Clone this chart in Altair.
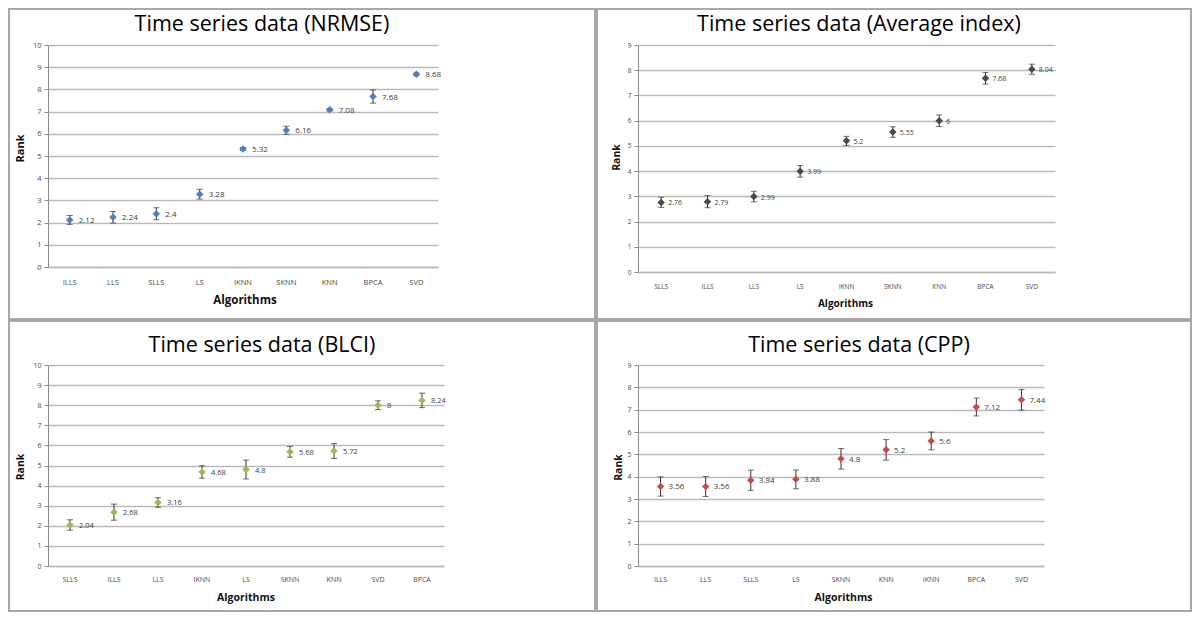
import altair as alt
import pandas as pd

# ---- data ----
nrmse_algs = ["ILLS", "LLS", "SLLS", "LS", "IKNN", "SKNN", "KNN", "BPCA", "SVD"]
nrmse_rank = [2.12, 2.24, 2.4, 3.28, 5.32, 6.16, 7.08, 7.68, 8.68]
nrmse_err = [0.20, 0.26, 0.27, 0.22, 0.06, 0.18, 0.06, 0.30, 0.06]

avg_algs = ["SLLS", "ILLS", "LLS", "LS", "IKNN", "SKNN", "KNN", "BPCA", "SVD"]
avg_rank = [2.76, 2.79, 2.99, 3.99, 5.2, 5.55, 6, 7.68, 8.04]
avg_err = [0.20, 0.24, 0.21, 0.23, 0.18, 0.21, 0.23, 0.23, 0.20]

blci_algs = ["SLLS", "ILLS", "LLS", "IKNN", "LS", "SKNN", "KNN", "SVD", "BPCA"]
blci_rank = [2.04, 2.68, 3.16, 4.68, 4.8, 5.68, 5.72, 8, 8.24]
blci_err = [0.26, 0.40, 0.24, 0.31, 0.47, 0.27, 0.37, 0.22, 0.36]

cpp_algs = ["ILLS", "LLS", "SLLS", "LS", "SKNN", "KNN", "IKNN", "BPCA", "SVD"]
cpp_rank = [3.56, 3.56, 3.84, 3.88, 4.8, 5.2, 5.6, 7.12, 7.44]
cpp_err = [0.43, 0.45, 0.45, 0.42, 0.46, 0.46, 0.40, 0.40, 0.46]

FONT = "Open Sans"
GRID = "#bababa"


def panel(title, algs, ranks, errs, ymax, color, g):
    df = pd.DataFrame({
        "alg": algs,
        "rank": ranks,
        "err": errs,
        "label": [f"{v:g}" for v in ranks],
    })
    w, h = g["w"], g["h"]
    xaxis = alt.Axis(
        title="Algorithms", labelAngle=0, ticks=False, tickSize=0,
        domainColor=GRID, domainWidth=1.5,
        labelFont=FONT, labelFontSize=g["axfs"], labelColor="#4a4a4a",
        labelBaseline="middle", labelPadding=g["xlab"],
        titleFont=FONT, titleFontSize=g["algfs"], titleFontWeight="bold",
        titleColor="#111111", titleX=g["algX"], titleY=g["algY"],
        titleAlign="center", titleBaseline="middle",
    )
    yaxis = alt.Axis(
        title="Rank", values=list(range(0, ymax + 1)),
        grid=True, gridColor=GRID, gridWidth=1.5,
        domainColor="#8c8c8c", tickColor="#8c8c8c", tickSize=4,
        labelFont=FONT, labelFontSize=g["axfs"], labelColor="#4a4a4a",
        labelPadding=3,
        titleFont=FONT, titleFontSize=g["rankfs"], titleFontWeight="bold",
        titleColor="#111111", titleX=g["rankX"], titleY=g["rankY"],
        titleAngle=270, titleAlign="center", titleBaseline="middle",
    )
    x = alt.X("alg:N", sort=algs,
              scale=alt.Scale(type="band", paddingInner=0, paddingOuter=0),
              axis=xaxis)
    yscale = alt.Scale(domain=[0, ymax], nice=False, zero=True)

    base = alt.Chart(df).transform_calculate(
        lo="datum.rank - datum.err", hi="datum.rank + datum.err"
    )
    bars = base.mark_rule(color="#333333", strokeWidth=1).encode(
        x=x, y=alt.Y("lo:Q", scale=yscale, axis=yaxis), y2="hi:Q"
    )
    caps = base.transform_fold(["lo", "hi"], as_=["end", "val"]).mark_tick(
        orient="horizontal", size=6, thickness=1, color="#333333"
    ).encode(x=x, y=alt.Y("val:Q", scale=yscale, axis=yaxis))
    pts = base.mark_point(
        shape="diamond", filled=True, size=56, color=color, opacity=1
    ).encode(x=x, y=alt.Y("rank:Q", scale=yscale, axis=yaxis))
    labels = base.mark_text(
        align="left", baseline="middle", dx=g["ldx"], dy=1,
        fontSize=g["lfs"], font=FONT, color="#404040"
    ).encode(x=x, y=alt.Y("rank:Q", scale=yscale, axis=yaxis), text="label:N")

    one = alt.Chart(pd.DataFrame({"f": [0]}))
    fx1, fx2, fy1, fy2 = g["frame"]
    frame = one.mark_rect(
        fillOpacity=0, stroke="#a8a8a8", strokeWidth=2
    ).encode(
        x=alt.value(fx1), x2=alt.value(fx2), y=alt.value(fy1), y2=alt.value(fy2)
    )
    ttl = one.mark_text(
        font=FONT, fontSize=21.5, fontWeight="normal", color="#000000",
        align="center", baseline="top",
    ).encode(
        x=alt.value(g["tx"]), y=alt.value(g["ty"]),
        text=alt.value(title),
    )

    return alt.layer(frame, ttl, bars, caps, pts, labels).properties(
        width=w, height=h,
    )


# Plot origins: row 1 y=45, row 2 y=365; column 1 x=48, column 2 x=638
g1 = dict(w=390, h=222, frame=(-39, 547, -36, 274), tx=214, ty=-31,
          rankX=-28, rankY=103, algX=196.5, algY=33, xlab=15, axfs=7.5,
          algfs=11.5, rankfs=11, lfs=8, ldx=9)
g2 = dict(w=417, h=227, frame=(-41, 553, -36, 274), tx=221, ty=-31,
          rankX=-22, rankY=112, algX=207, algY=31, xlab=14, axfs=6.5,
          algfs=10, rankfs=10.5, lfs=7, ldx=7)
g3 = dict(w=396, h=201, frame=(-39, 547, -44, 246), tx=214, ty=-30,
          rankX=-28, rankY=101.5, algX=197.5, algY=31, xlab=13, axfs=7,
          algfs=10.5, rankfs=10.5, lfs=7.5, ldx=9)
g4 = dict(w=406, h=201, frame=(-41, 553, -44, 246), tx=221, ty=-30,
          rankX=-20, rankY=102, algX=205, algY=31, xlab=13, axfs=7,
          algfs=10.5, rankfs=10.5, lfs=8, ldx=8)

p1 = panel("Time series data (NRMSE)", nrmse_algs, nrmse_rank, nrmse_err, 10, "#4F81BD", g1)
p2 = panel("Time series data (Average index)", avg_algs, avg_rank, avg_err, 9, "#4a4a4a", g2)
p3 = panel("Time series data (BLCI)", blci_algs, blci_rank, blci_err, 10, "#9BBB59", g3)
p4 = panel("Time series data (CPP)", cpp_algs, cpp_rank, cpp_err, 9, "#C0504D", g4)

chart = alt.vconcat(
    alt.hconcat(p1, p2, spacing=0),
    alt.hconcat(p3, p4, spacing=0),
    spacing=0,
).properties(padding=0, background="white").configure_view(stroke=None)

chart.save("out.html", embed_options={"renderer": "svg", "actions": False})
